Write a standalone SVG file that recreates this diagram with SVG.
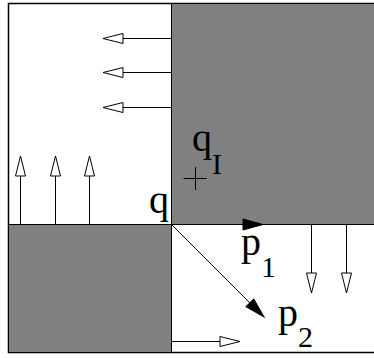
<svg xmlns="http://www.w3.org/2000/svg" width="374" height="358" viewBox="0 0 374 358">
  <style>
    .ln { stroke: #000; stroke-width: 1; fill: none; }
    .gray { fill: #808080; stroke: #000; stroke-width: 1; }
    .lbl { font-family: "Liberation Serif", "Times New Roman", serif; font-size: 40px; fill: #000; }
    .sub { font-family: "Liberation Serif", "Times New Roman", serif; font-size: 30px; fill: #000; }
  </style>
  <defs>
    <marker id="open" markerUnits="userSpaceOnUse" markerWidth="24" markerHeight="14" viewBox="-1 -7 24 14" refX="20" refY="0" orient="auto">
      <path d="M0,-5 L20,0 L0,5 Z" fill="#fff" stroke="#000" stroke-width="1"/>
    </marker>
    <marker id="filled" markerUnits="userSpaceOnUse" markerWidth="24" markerHeight="16" viewBox="-1 -8 24 16" refX="20" refY="0" orient="auto">
      <path d="M0,-5.5 L20,0 L0,5.5 Z" fill="#000" stroke="#000" stroke-width="1"/>
    </marker>
  </defs>
  <rect width="374" height="358" fill="#fff"/>
  <g id="frame">
    <rect x="8.5" y="3.5" width="380" height="349" fill="#fff" stroke="#000" stroke-width="1.5"/>
  </g>
  <g id="region-top-right">
    <rect class="gray" x="171.5" y="3.5" width="220" height="221"/>
  </g>
  <g id="region-bottom-left">
    <rect class="gray" x="8.5" y="224.5" width="163" height="128"/>
  </g>
  <g id="bottom-right-edge">
    <line class="ln" x1="171.5" y1="224.5" x2="380" y2="224.5"/>
  </g>
  <g id="connectors">
    <line class="ln" x1="171" y1="38.5" x2="103" y2="38.5" marker-end="url(#open)"/>
    <line class="ln" x1="171" y1="72.5" x2="103" y2="72.5" marker-end="url(#open)"/>
    <line class="ln" x1="171" y1="107.5" x2="103" y2="107.5" marker-end="url(#open)"/>
    <line class="ln" x1="20.5" y1="224" x2="20.5" y2="156" marker-end="url(#open)"/>
    <line class="ln" x1="55.5" y1="224" x2="55.5" y2="156" marker-end="url(#open)"/>
    <line class="ln" x1="89.5" y1="224" x2="89.5" y2="156" marker-end="url(#open)"/>
    <line class="ln" x1="311.5" y1="225" x2="311.5" y2="293" marker-end="url(#open)"/>
    <line class="ln" x1="346.5" y1="225" x2="346.5" y2="293" marker-end="url(#open)"/>
    <line class="ln" x1="172" y1="341.5" x2="240" y2="341.5" marker-end="url(#open)"/>
    <line class="ln" x1="172" y1="224.5" x2="263" y2="224.5" marker-end="url(#filled)"/>
    <line class="ln" x1="171.5" y1="224.5" x2="264" y2="317" marker-end="url(#filled)"/>
  </g>
  <g id="point-qI">
    <line class="ln" x1="183.5" y1="178.5" x2="206.5" y2="178.5"/>
    <line class="ln" x1="195.5" y1="167" x2="195.5" y2="190"/>
    <text class="lbl" x="192" y="151">q</text>
    <text class="sub" x="212" y="174">I</text>
  </g>
  <g id="label-q">
    <text class="lbl" x="169" y="213" text-anchor="end">q</text>
  </g>
  <g id="label-p1">
    <text class="lbl" x="241" y="255">p</text>
    <text class="sub" x="261" y="277">1</text>
  </g>
  <g id="label-p2">
    <text class="lbl" x="278" y="326">p</text>
    <text class="sub" x="298" y="347">2</text>
  </g>
</svg>
